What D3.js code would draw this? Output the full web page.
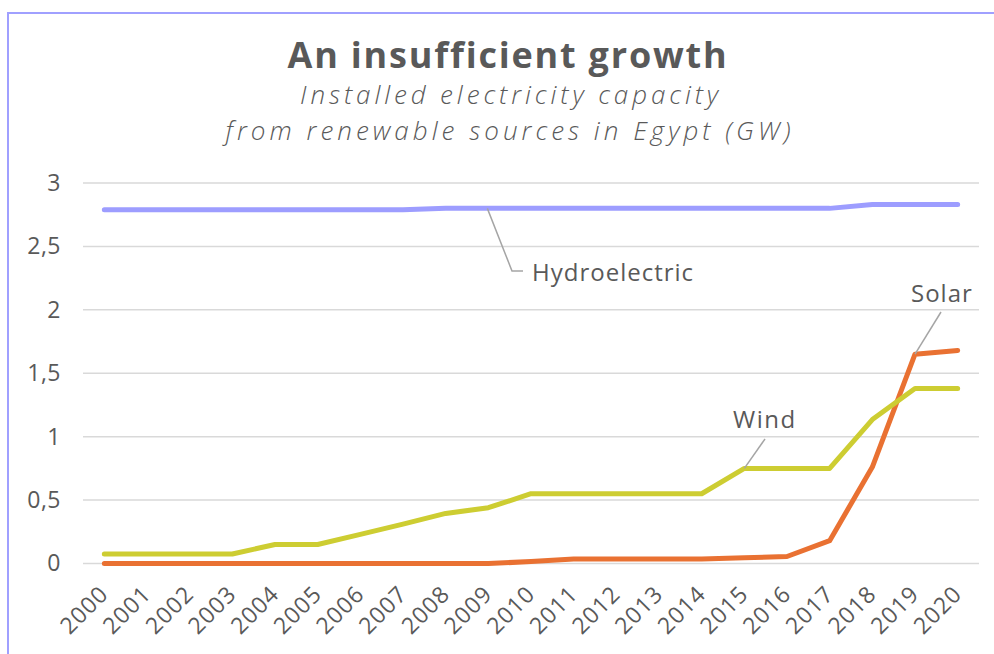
<!DOCTYPE html>
<html>
<head>
<meta charset="utf-8">
<script src="https://cdn.jsdelivr.net/npm/d3@7"></script>
<style>
  body { margin: 0; background: #fff; }
  text { font-family: "Open Sans", "Noto Sans", sans-serif; fill: #595959; }
</style>
</head>
<body>
<div id="chart"></div>
<script>
var years = ["2000","2001","2002","2003","2004","2005","2006","2007","2008","2009","2010",
             "2011","2012","2013","2014","2015","2016","2017","2018","2019","2020"];
var hydro = [2.79,2.79,2.79,2.79,2.79,2.79,2.79,2.79,2.80,2.80,2.80,2.80,2.80,2.80,2.80,2.80,2.80,2.80,2.83,2.83,2.83];
var wind  = [0.075,0.075,0.075,0.075,0.15,0.15,0.23,0.31,0.395,0.44,0.55,0.55,0.55,0.55,0.55,0.75,0.75,0.75,1.135,1.38,1.38];
var solar = [0,0,0,0,0,0,0,0,0,0,0.015,0.035,0.035,0.035,0.035,0.045,0.055,0.18,0.76,1.65,1.68];
var yTicks = [0, 0.5, 1, 1.5, 2, 2.5, 3];

var width = 994, height = 654;
var svg = d3.select("#chart").append("svg")
  .attr("width", width)
  .attr("height", height);

// frame (only top and left edges visible)
svg.append("path")
  .attr("d", "M8,654 L8,13 L994,13")
  .attr("fill", "none")
  .attr("stroke", "#a0a0ff")
  .attr("stroke-width", 2);

// title
svg.append("text")
  .attr("x", 508).attr("y", 68)
  .attr("text-anchor", "middle")
  .style("font-size", "36px")
  .style("font-weight", "bold")
  .style("letter-spacing", "1.8px")
  .text("An insufficient growth");
svg.append("text")
  .attr("x", 511).attr("y", 104)
  .attr("text-anchor", "middle")
  .style("font-size", "26px")
  .style("font-style", "italic")
  .style("font-weight", "300")
  .style("letter-spacing", "3.9px")
  .text("Installed electricity capacity");
svg.append("text")
  .attr("x", 510).attr("y", 140)
  .attr("text-anchor", "middle")
  .style("font-size", "26px")
  .style("font-style", "italic")
  .style("font-weight", "300")
  .style("letter-spacing", "4px")
  .text("from renewable sources in Egypt (GW)");

var x = d3.scalePoint().domain(years).range([83, 979]).padding(0.5);
var y = d3.scaleLinear().domain([0, 3]).range([563.5, 183]);

// grid
svg.append("g").selectAll("line")
  .data(yTicks).enter()
  .append("line")
  .attr("x1", 83).attr("x2", 979)
  .attr("y1", function(d) { return y(d); })
  .attr("y2", function(d) { return y(d); })
  .attr("stroke", "#d9d9d9")
  .attr("stroke-width", 1.5);

// y axis labels
var yAxis = svg.append("g")
  .attr("transform", "translate(71,0)")
  .call(d3.axisLeft(y).tickValues(yTicks).tickSize(0).tickPadding(10)
    .tickFormat(function(d) { return String(d).replace(".", ","); }));
yAxis.select(".domain").remove();
yAxis.selectAll("text")
  .style("font-size", "23px")
  .style("font-family", "'Open Sans', sans-serif")
  .style("letter-spacing", "0.5px")
  .attr("fill", "#595959");

// x axis labels
var xAxis = svg.append("g")
  .attr("transform", "translate(0," + y(0) + ")")
  .call(d3.axisBottom(x).tickSize(0).tickPadding(0));
xAxis.select(".domain").remove();
xAxis.selectAll("text")
  .style("font-size", "23px")
  .style("font-family", "'Open Sans', sans-serif")
  .style("letter-spacing", "1px")
  .attr("fill", "#595959")
  .attr("text-anchor", "end")
  .attr("dy", 0)
  .attr("transform", "translate(5,32) rotate(-45)");

// lines
var line = d3.line()
  .x(function(d, i) { return x(years[i]); })
  .y(function(d) { return y(d); });

[[solar, "#e97132"], [wind, "#cdcd32"], [hydro, "#9d9dff"]].forEach(function(s) {
  svg.append("path")
    .datum(s[0])
    .attr("fill", "none")
    .attr("stroke", s[1])
    .attr("stroke-width", 5)
    .attr("stroke-linecap", "round")
    .attr("stroke-linejoin", "round")
    .attr("d", line);
});

// annotations
svg.append("path")
  .attr("d", "M" + (x("2009") - 1) + "," + y(hydro[9]) + " L512,271 L523,271")
  .attr("fill", "none").attr("stroke", "#a5a5a5").attr("stroke-width", 1.5);
svg.append("text").attr("x", 532).attr("y", 281)
  .style("font-size", "24px").style("letter-spacing", "1px").text("Hydroelectric");

svg.append("path")
  .attr("d", "M765,439 L" + x("2015") + "," + y(wind[15]))
  .attr("fill", "none").attr("stroke", "#a5a5a5").attr("stroke-width", 1.5);
svg.append("text").attr("x", 733).attr("y", 428)
  .style("font-size", "24px").style("letter-spacing", "1.5px").text("Wind");

svg.append("path")
  .attr("d", "M941,312 L" + x("2019") + "," + y(solar[19]))
  .attr("fill", "none").attr("stroke", "#a5a5a5").attr("stroke-width", 1.5);
svg.append("text").attr("x", 911).attr("y", 302)
  .style("font-size", "24px").style("letter-spacing", "1px").text("Solar");
</script>
</body>
</html>
